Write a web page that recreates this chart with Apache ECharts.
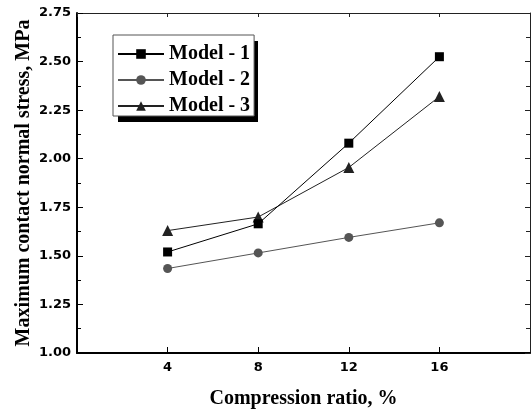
<!DOCTYPE html>
<html>
<head>
<meta charset="utf-8">
<script src="https://cdn.jsdelivr.net/npm/echarts@6/dist/echarts.min.js"></script>
<style>
  html, body { margin: 0; padding: 0; background: #fff; }
  #chart { width: 532px; height: 410px; }
</style>
</head>
<body>
<div id="chart"></div>
<script>
// compression ratio, %
var compression = [4, 8, 12, 16];
// maximum contact normal stress, MPa
var model1 = [1.52, 1.665, 2.08, 2.525];
var model2 = [1.435, 1.515, 1.595, 1.67];
var model3 = [1.63, 1.70, 1.955, 2.32];
var seriesNames = ['Model - 1', 'Model - 2', 'Model - 3'];

function pairs(ys) {
  return compression.map(function (x, i) { return [x, ys[i]]; });
}

var chart = echarts.init(document.getElementById('chart'));

var tickFont = {
  fontFamily: 'DejaVu Sans',
  fontWeight: 'bold',
  fontSize: 13,
  color: '#000'
};
var titleFont = {
  fontFamily: 'Liberation Serif',
  fontWeight: 'bold',
  fontSize: 20,
  color: '#000'
};

chart.setOption({
  animation: false,
  backgroundColor: '#fff',
  grid: {
    left: 77,
    right: 2,
    top: 13,
    bottom: 57,
    containLabel: false,
    outerBoundsMode: 'none'
  },
  // drop shadow behind the legend box
  graphic: [{
    type: 'rect',
    left: 118,
    top: 41,
    shape: { width: 140, height: 81 },
    style: { fill: '#000' },
    z: 10
  }],
  legend: {
    left: 113,
    top: 35,
    orient: 'vertical',
    data: seriesNames,
    itemWidth: 46,
    itemHeight: 12,
    itemGap: 6,
    padding: [9, 4, 0, 4],
    backgroundColor: '#fff',
    borderColor: '#555',
    borderWidth: 1,
    z: 20,
    textStyle: {
      fontFamily: 'Liberation Serif',
      fontWeight: 'bold',
      fontSize: 20,
      lineHeight: 20,
      color: '#000'
    }
  },
  xAxis: [{
    type: 'value',
    position: 'bottom',
    min: 0,
    max: 20,
    interval: 4,
    name: 'Compression ratio, %',
    nameLocation: 'middle',
    nameGap: 36,
    nameMoveOverlap: false,
    nameTextStyle: titleFont,
    axisLine: { lineStyle: { color: '#000', width: 2 } },
    axisTick: { inside: true, length: 6, lineStyle: { color: '#000' } },
    axisLabel: {
      showMinLabel: false,
      showMaxLabel: false,
      margin: 8,
      fontFamily: tickFont.fontFamily,
      fontWeight: tickFont.fontWeight,
      fontSize: tickFont.fontSize,
      color: tickFont.color
    },
    splitLine: { show: false }
  }, {
    type: 'value',
    position: 'top',
    min: 0,
    max: 20,
    interval: 4,
    axisLine: { onZero: false, lineStyle: { color: '#222', width: 1 } },
    axisTick: { inside: true, length: 4, lineStyle: { color: '#222' } },
    axisLabel: { show: false },
    splitLine: { show: false }
  }],
  yAxis: [{
    type: 'value',
    position: 'left',
    min: 1,
    max: 2.75,
    interval: 0.25,
    name: 'Maximum contact normal stress, MPa',
    nameLocation: 'middle',
    nameGap: 43,
    nameMoveOverlap: false,
    nameTextStyle: titleFont,
    axisLine: { show: true, lineStyle: { color: '#000', width: 2 } },
    axisTick: { show: true, inside: true, length: 6, lineStyle: { color: '#000' } },
    minorTick: { show: true, splitNumber: 2, length: 4, lineStyle: { color: '#000' } },
    axisLabel: {
      margin: 6,
      formatter: function (v) { return v.toFixed(2); },
      fontFamily: tickFont.fontFamily,
      fontWeight: tickFont.fontWeight,
      fontSize: tickFont.fontSize,
      color: tickFont.color
    },
    splitLine: { show: false }
  }, {
    type: 'value',
    position: 'right',
    min: 1,
    max: 2.75,
    interval: 0.25,
    axisLine: { show: true, onZero: false, lineStyle: { color: '#222', width: 1 } },
    axisTick: { show: true, inside: true, length: 5, lineStyle: { color: '#222' } },
    minorTick: { show: true, splitNumber: 2, length: 4, lineStyle: { color: '#222' } },
    axisLabel: { show: false },
    splitLine: { show: false }
  }],
  series: [{
    name: seriesNames[0],
    type: 'line',
    data: pairs(model1),
    symbol: 'rect',
    symbolSize: 9,
    lineStyle: { color: '#000', width: 1 },
    itemStyle: { color: '#000' },
    z: 3
  }, {
    name: seriesNames[1],
    type: 'line',
    data: pairs(model2),
    symbol: 'circle',
    symbolSize: 9,
    lineStyle: { color: '#555', width: 1 },
    itemStyle: { color: '#555' },
    z: 2
  }, {
    name: seriesNames[2],
    type: 'line',
    data: pairs(model3),
    symbol: 'triangle',
    symbolSize: 11,
    lineStyle: { color: '#222', width: 1 },
    itemStyle: { color: '#222' },
    z: 2
  }]
});
</script>
</body>
</html>
